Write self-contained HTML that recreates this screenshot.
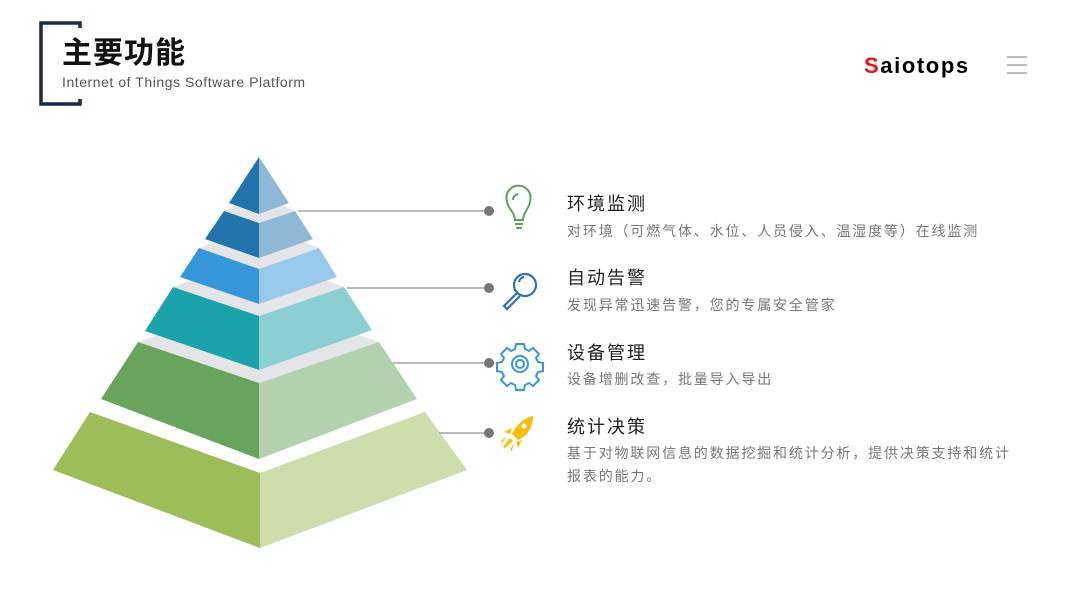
<!DOCTYPE html>
<html><head><meta charset="utf-8"><style>
body{margin:0;width:1080px;height:607px;background:#fff;position:relative;overflow:hidden;font-family:"Liberation Sans","Noto Sans CJK SC",sans-serif}
.a{position:absolute;white-space:nowrap}
.t{font-size:18px;color:#222;letter-spacing:2px;left:567px}
.d{font-size:14px;color:#777;letter-spacing:1.85px;left:567px}
</style></head><body>
<svg class="a" style="left:0;top:0" width="1080" height="607">
<path d="M80,28 V23 H41 V104 H80 V99" fill="none" stroke="#1c2a4a" stroke-width="3.5"/>
<polygon points="90,412 260,473 260,548 53,470" fill="#9cbd5a"/>
<polygon points="260,473 425,412 467,470 260,548" fill="#cddeac"/>
<polygon points="138,342 259,300 379,342 259,383" fill="#e4e5e8"/>
<polygon points="138,342 259,383 259,459 101,399" fill="#68a45c"/>
<polygon points="259,383 379,342 417,399 259,459" fill="#b3d1ae"/>
<polygon points="173,287 259,255 344,287 259,316" fill="#e4e5e8"/>
<polygon points="173,287 259,316 259,370 145,331" fill="#1aa3ab"/>
<polygon points="259,316 344,287 372,330 259,370" fill="#8ccfd3"/>
<polygon points="199,248 259,225 319,248 259,269" fill="#e4e5e8"/>
<polygon points="199,248 259,269 259,304 180,277" fill="#3597da"/>
<polygon points="259,269 319,248 337,277 259,304" fill="#98c9eb"/>
<polygon points="224,211 259,195 295,211 259,223" fill="#e4e5e8"/>
<polygon points="224,211 259,223 259,258 205,239" fill="#2274ac"/>
<polygon points="259,223 295,211 313,239 259,258" fill="#8fb8d6"/>
<polygon points="259,157 259,214 229,203" fill="#2274ac"/>
<polygon points="259,157 289,203 259,214" fill="#8fb8d6"/>
<g stroke="#777" stroke-width="1">
<line x1="298" y1="211" x2="489" y2="211"/>
<line x1="347" y1="288" x2="489" y2="288"/>
<line x1="393" y1="363" x2="489" y2="363"/>
<line x1="439" y1="433" x2="489" y2="433"/>
</g>
<g fill="#777"><circle cx="489" cy="211" r="5"/><circle cx="489" cy="288" r="5"/><circle cx="489" cy="363" r="5"/><circle cx="489" cy="433" r="5"/></g>
<g fill="none" stroke="#5da25b" stroke-width="2">
<path d="M515,220 C515,212 507,208 507,201 A12,12 0 1 1 530,201 C530,208 523,212 523,220 Z"/>
<path d="M513,200 A6,6 0 0 1 518,194"/>
<line x1="515" y1="224" x2="523" y2="224"/><line x1="516" y1="228" x2="522" y2="228"/>
</g>
<g fill="none" stroke="#2a72b5" stroke-width="2.2">
<circle cx="525" cy="285" r="11"/>
<path d="M517,293 L504,306 L507,309 L520,296"/>
<path d="M519,282 A6,6 0 0 1 524,277"/>
</g>
<g fill="none" stroke="#3a96dc" stroke-width="2">
<path d="M516,344 h8 l1,5 l4,2 l4,-3 l6,6 l-3,4 l2,4 l5,1 v8 l-5,1 l-2,4 l3,4 l-6,6 l-4,-3 l-4,2 l-1,5 h-8 l-1,-5 l-4,-2 l-4,3 l-6,-6 l3,-4 l-2,-4 l-5,-1 v-8 l5,-1 l2,-4 l-3,-4 l6,-6 l4,3 l4,-2 z"/>
<circle cx="520" cy="364" r="8"/><circle cx="520" cy="364" r="4"/>
</g>
<g fill="#fbbd0a">
<path d="M533,416 C524,418 516,425 512,434 L518,440 C527,436 533,428 533,416 Z"/>
<path d="M512,428 L504,432 L510,434 Z"/><path d="M522,440 L518,448 L516,442 Z"/>
<path d="M510,438 L503,447 L505,448 L513,441 Z"/><path d="M507,436 L501,441 L502,443 Z"/><path d="M514,442 L510,450 L512,451 Z"/>
</g>
<circle cx="524" cy="426" r="2.5" fill="#fff"/>
<g stroke="#bbb" stroke-width="2"><line x1="1007" y1="57" x2="1027" y2="57"/><line x1="1007" y1="65" x2="1027" y2="65"/><line x1="1007" y1="73" x2="1027" y2="73"/></g>
</svg>
<div class="a" style="left:62px;top:34px;font-size:30px;font-weight:bold;color:#111;letter-spacing:1px;line-height:40px">主要功能</div>
<div class="a" style="left:62px;top:73px;font-size:14px;color:#555;letter-spacing:0.55px;line-height:18px">Internet of Things Software Platform</div>
<div class="a" style="left:864px;top:54px;font-size:22px;font-weight:bold;color:#000;letter-spacing:1.6px;line-height:24px"><span style="color:#e8141a">S</span>aiotops</div>
<div class="a t" style="top:190px">环境监测</div>
<div class="a d" style="top:221px">对环境（可燃气体、水位、人员侵入、温湿度等）在线监测</div>
<div class="a t" style="top:264px">自动告警</div>
<div class="a d" style="top:295px">发现异常迅速告警，您的专属安全管家</div>
<div class="a t" style="top:339px">设备管理</div>
<div class="a d" style="top:369px">设备增删改查，批量导入导出</div>
<div class="a t" style="top:413px">统计决策</div>
<div class="a d" style="top:443px">基于对物联网信息的数据挖掘和统计分析，提供决策支持和统计</div>
<div class="a d" style="top:466px">报表的能力。</div>
</body></html>
